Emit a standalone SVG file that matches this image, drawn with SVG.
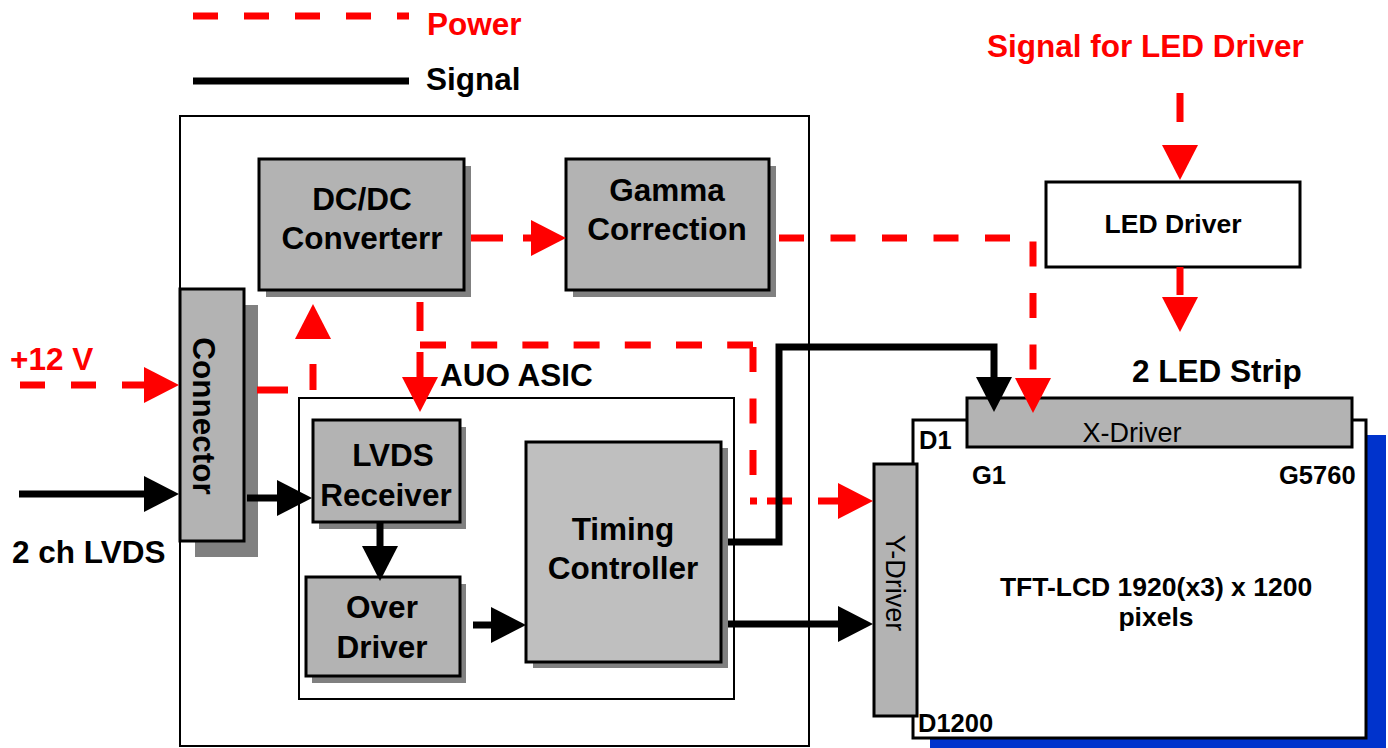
<svg xmlns="http://www.w3.org/2000/svg" width="1388" height="748" viewBox="0 0 1388 748">
<defs>
<style>
.box{fill:#b3b3b3;stroke:#000;stroke-width:3}
.tc{fill:#bfbfbf;stroke:#000;stroke-width:3}
.sh{fill:#808080}
.frame{fill:#fff;stroke:#000;stroke-width:2}
.pw{fill:none;stroke:#ff0000;stroke-width:7;stroke-dasharray:25 26}
.sg{fill:none;stroke:#000;stroke-width:7}
.t{font-family:"Liberation Sans",Arial,Helvetica,sans-serif;font-weight:bold;font-size:31.5px;fill:#000}
.tr{fill:#ff0000}
.tm{font-family:"Liberation Sans",Arial,Helvetica,sans-serif;font-weight:bold;font-size:25.5px;fill:#000}
.tl{font-size:26.5px}
.tn{font-family:"Liberation Sans",Arial,Helvetica,sans-serif;font-weight:normal;font-size:27px;fill:#000}
.c{text-anchor:middle}
</style>
<marker id="ar" markerUnits="userSpaceOnUse" markerWidth="35" markerHeight="36" viewBox="0 0 35 36" refX="0" refY="18" orient="auto"><path d="M0,0 L35,18 L0,36 z" fill="#ff0000"/></marker>
<marker id="ab" markerUnits="userSpaceOnUse" markerWidth="35" markerHeight="36" viewBox="0 0 35 36" refX="0" refY="18" orient="auto"><path d="M0,0 L35,18 L0,36 z" fill="#000"/></marker>
</defs>
<rect width="1388" height="748" fill="#fff"/>

<g id="legend">
<line x1="193" y1="16" x2="409" y2="16" class="pw"/>
<text x="427" y="35" class="t tr">Power</text>
<line x1="193" y1="81" x2="409" y2="81" class="sg"/>
<text x="426" y="90" class="t">Signal</text>
</g>

<g id="module">
<rect x="180" y="116" width="629" height="630" class="frame"/>
</g>

<g id="asic">
<rect x="299" y="398" width="435" height="301" class="frame"/>
<text x="440" y="386" class="t">AUO ASIC</text>
</g>

<g id="dcdc">
<rect x="266" y="166" width="205" height="131" class="sh"/>
<rect x="259" y="159" width="205" height="131" class="box"/>
<text x="362" y="210" class="t c">DC/DC</text>
<text x="362" y="249" class="t c">Converterr</text>
</g>

<g id="gamma">
<rect x="573" y="166" width="203" height="131" class="sh"/>
<rect x="566" y="159" width="203" height="131" class="box"/>
<text x="667" y="201" class="t c">Gamma</text>
<text x="667" y="240" class="t c">Correction</text>
</g>

<g id="connector">
<rect x="195" y="305" width="63" height="252" class="sh"/>
<rect x="180" y="289" width="64" height="252" class="box"/>
<text transform="translate(193,416) rotate(90)" class="t c">Connector</text>
</g>

<g id="lvds">
<rect x="319" y="427" width="147" height="102" class="sh"/>
<rect x="313" y="420" width="147" height="102" class="box"/>
<text x="393" y="466" class="t c">LVDS</text>
<text x="386" y="506" class="t c">Receiver</text>
</g>

<g id="overdriver">
<rect x="312" y="584" width="154" height="99" class="sh"/>
<rect x="306" y="577" width="154" height="99" class="box"/>
<text x="382" y="618" class="t c">Over</text>
<text x="382" y="658" class="t c">Driver</text>
</g>

<g id="timing">
<rect x="533" y="448" width="195" height="220" class="sh"/>
<rect x="526" y="442" width="195" height="220" class="tc"/>
<text x="623" y="540" class="t c">Timing</text>
<text x="623" y="579" class="t c">Controller</text>
</g>

<g id="leddriver">
<rect x="1046" y="182" width="254" height="85" fill="#fff" stroke="#000" stroke-width="3"/>
<text x="1173" y="233" class="tm tl c">LED Driver</text>
<text x="987" y="57" class="t tr">Signal for LED Driver</text>
</g>

<g id="panel">
<rect x="930" y="435" width="456" height="313" fill="#0033cc"/>
<rect x="913" y="420" width="453" height="318" fill="#fff" stroke="#000" stroke-width="3"/>
<text x="1156" y="596" class="tm tl c">TFT-LCD 1920(x3) x 1200</text>
<text x="1156" y="626" class="tm tl c">pixels</text>
<text x="919" y="449" class="tm">D1</text>
<text x="972" y="484" class="tm">G1</text>
<text x="1279" y="484" class="tm">G5760</text>
<text x="918" y="732" class="tm">D1200</text>
</g>

<g id="xdriver">
<rect x="967" y="398" width="385" height="49" class="box"/>
<text x="1132" y="442" class="tn c">X-Driver</text>
<text x="1132" y="382" class="t">2 LED Strip</text>
</g>

<g id="ydriver">
<rect x="874" y="464" width="43" height="252" class="box"/>
<text transform="translate(886,583) rotate(90)" class="tn c">Y-Driver</text>
</g>

<g id="connectors">
<path d="M20,385 H144" class="pw" marker-end="url(#ar)"/>
<path d="M257,390 H313 V339" class="pw" style="stroke-dasharray:31 25 26 30" marker-end="url(#ar)"/>
<path d="M471,238 H531" class="pw" style="stroke-dasharray:32 20" marker-end="url(#ar)"/>
<path d="M420,302 V377" class="pw" style="stroke-dasharray:29 21" marker-end="url(#ar)"/>
<path d="M420,345 H753" class="pw" style="stroke-dasharray:26 25.2"/>
<path d="M753,347 V501" class="pw" style="stroke-dasharray:25 26.5"/>
<path d="M750,501 H838" class="pw" style="stroke-dasharray:7 10 25 26 25 30" marker-end="url(#ar)"/>
<path d="M779,238 H1033 V378" class="pw" style="stroke-dasharray:25 26.5" marker-end="url(#ar)"/>
<path d="M1180,93 V145" class="pw" style="stroke-dasharray:29 30" marker-end="url(#ar)"/>
<path d="M1180,267 V297" class="pw" style="stroke-dasharray:28 30" marker-end="url(#ar)"/>

<path d="M19,494 H144" class="sg" marker-end="url(#ab)"/>
<path d="M247,498 H277" class="sg" marker-end="url(#ab)"/>
<path d="M380,522 V546" class="sg" marker-end="url(#ab)"/>
<path d="M473,625 H491" class="sg" marker-end="url(#ab)"/>
<path d="M728,624 H838" class="sg" marker-end="url(#ab)"/>
<path d="M728,542 H779 V347 H994 V377" class="sg" marker-end="url(#ab)"/>
</g>

<g id="labels">
<text x="10" y="370" class="t tr">+12 V</text>
<text x="12" y="563" class="t">2 ch LVDS</text>
</g>
</svg>
